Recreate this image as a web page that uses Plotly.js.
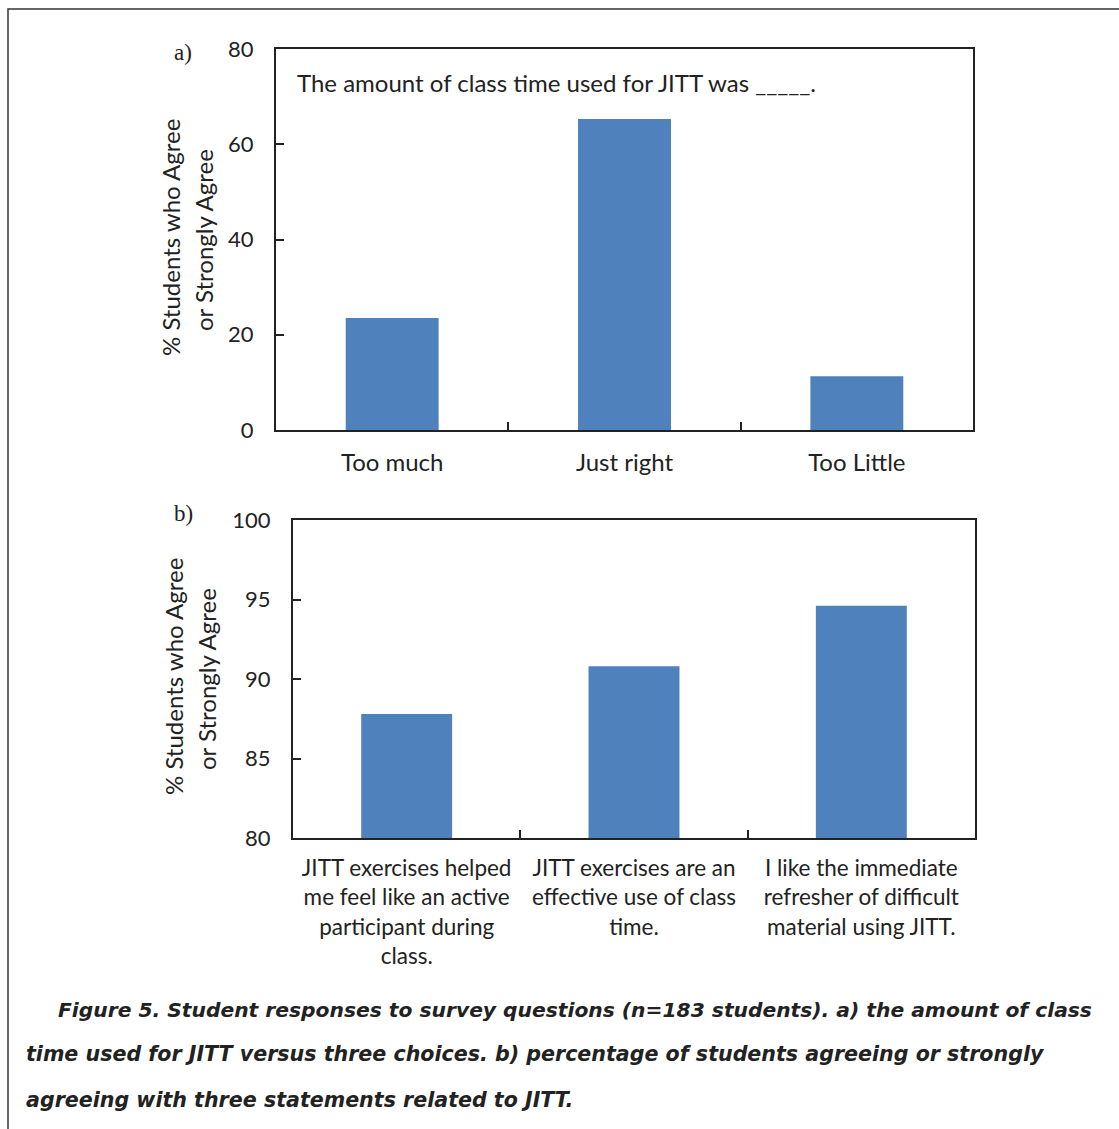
<!DOCTYPE html>
<html>
<head>
<meta charset="utf-8">
<script src="https://cdn.plot.ly/plotly-3.0.1.min.js"></script>
<style>html,body{margin:0;padding:0;background:#fff;}#chart{width:1119px;height:1129px;}</style>
</head>
<body>
<div id="chart"></div>
<script>
// Panel a data
const catsA = ["Too much", "Just right", "Too Little"];
const valsA = [23.5, 65.3, 11.3];
const ticksA = [0, 20, 40, 60, 80];

// Panel b data
const catsB = [
  "JITT exercises helped<br>me feel like an active<br>participant during<br>class.",
  "JITT exercises are an<br>effective use of class<br>time.",
  "I like the immediate<br>refresher of difficult<br>material using JITT."
];
const valsB = [87.8, 90.8, 94.6];
const ticksB = [80, 85, 90, 95, 100];

const yTitle1 = "% Students who Agree";
const yTitle2 = "or Strongly Agree";
const noteA = "The amount of class time used for JITT was _____.";
const captionLines = [
  "Figure 5. Student responses to survey questions (n=183 students). a) the amount of class",
  "time used for JITT versus three choices. b) percentage of students agreeing or strongly",
  "agreeing with three statements related to JITT."
];

const W = 1119, H = 1129;
const px = x => x / W;
const py = y => 1 - y / H;

const font = "Lato, 'Open Sans', sans-serif";
const capFont = "'DejaVu Sans', sans-serif";
const txtColor = "#222";
const barColor = "#4F81BD";

const axisCommon = {
  showline: true, mirror: true, linecolor: "#222", linewidth: 2,
  showgrid: false, zeroline: false, fixedrange: true,
  tickfont: {family: font, size: 22, color: txtColor}
};

const data = [
  {type: "bar", x: catsA, y: valsA, xaxis: "x", yaxis: "y",
   marker: {color: barColor}, hoverinfo: "none"},
  {type: "bar", x: catsB, y: valsB, xaxis: "x2", yaxis: "y2",
   marker: {color: barColor}, hoverinfo: "none"}
];

const layout = {
  width: W, height: H,
  margin: {l: 0, r: 0, t: 0, b: 0},
  paper_bgcolor: "#fff", plot_bgcolor: "#fff",
  showlegend: false,
  bargap: 0.6,
  font: {family: font, color: txtColor},
  xaxis: Object.assign({}, axisCommon, {
    domain: [px(276), px(973)], anchor: "y",
    type: "category", ticks: "inside", tickson: "boundaries",
    ticklen: 8, tickwidth: 2, tickcolor: "#222", ticklabelstandoff: 10,
    tickfont: {family: font, size: 24, color: txtColor}
  }),
  yaxis: Object.assign({}, axisCommon, {
    domain: [py(430), py(49)], anchor: "x",
    range: [0, 80], tickvals: ticksA, ticks: "inside",
    ticklen: 8, tickwidth: 2, tickcolor: "#222", ticklabelstandoff: 16
  }),
  xaxis2: Object.assign({}, axisCommon, {
    domain: [px(293), px(975)], anchor: "y2",
    type: "category", ticks: "inside", tickson: "boundaries",
    ticklen: 8, tickwidth: 2, tickcolor: "#222", ticklabelstandoff: 9,
    tickfont: {family: font, size: 22.5, color: txtColor}
  }),
  yaxis2: Object.assign({}, axisCommon, {
    domain: [py(838), py(520)], anchor: "x2",
    range: [80, 100], tickvals: ticksB, ticks: "inside",
    ticklen: 8, tickwidth: 2, tickcolor: "#222", ticklabelstandoff: 16
  }),
  shapes: [
    {type: "rect", xref: "paper", yref: "paper",
     x0: px(8), x1: 1.02, y0: -0.02, y1: py(9),
     line: {color: "#333", width: 1.5}, fillcolor: "rgba(0,0,0,0)"}
  ],
  annotations: [
    {xref: "paper", yref: "paper", x: px(295), y: py(82), xanchor: "left", yanchor: "middle",
     text: noteA, showarrow: false, font: {family: font, size: 24, color: txtColor}},
    {xref: "paper", yref: "paper", x: px(183), y: py(52), xanchor: "center", yanchor: "middle",
     text: "a)", showarrow: false, font: {family: "'Liberation Serif', serif", size: 23, color: txtColor}},
    {xref: "paper", yref: "paper", x: px(183), y: py(513), xanchor: "center", yanchor: "middle",
     text: "b)", showarrow: false, font: {family: "'Liberation Serif', serif", size: 23, color: txtColor}},
    {xref: "paper", yref: "paper", x: px(170), y: py(238), xanchor: "center", yanchor: "middle",
     text: yTitle1, textangle: -90, showarrow: false, font: {family: font, size: 24, color: txtColor}},
    {xref: "paper", yref: "paper", x: px(203), y: py(240), xanchor: "center", yanchor: "middle",
     text: yTitle2, textangle: -90, showarrow: false, font: {family: font, size: 24, color: txtColor}},
    {xref: "paper", yref: "paper", x: px(173), y: py(677), xanchor: "center", yanchor: "middle",
     text: yTitle1, textangle: -90, showarrow: false, font: {family: font, size: 24, color: txtColor}},
    {xref: "paper", yref: "paper", x: px(206), y: py(679), xanchor: "center", yanchor: "middle",
     text: yTitle2, textangle: -90, showarrow: false, font: {family: font, size: 24, color: txtColor}},
    {xref: "paper", yref: "paper", x: px(56), y: py(1010), xanchor: "left", yanchor: "middle",
     text: "<b><i>" + captionLines[0] + "</i></b>", showarrow: false,
     font: {family: capFont, size: 20.25, color: "#222"}},
    {xref: "paper", yref: "paper", x: px(24), y: py(1054), xanchor: "left", yanchor: "middle",
     text: "<b><i>" + captionLines[1] + "</i></b>", showarrow: false,
     font: {family: capFont, size: 20.6, color: "#222"}},
    {xref: "paper", yref: "paper", x: px(24), y: py(1100), xanchor: "left", yanchor: "middle",
     text: "<b><i>" + captionLines[2] + "</i></b>", showarrow: false,
     font: {family: capFont, size: 20.6, color: "#222"}}
  ]
};

Plotly.newPlot("chart", data, layout, {staticPlot: true, displayModeBar: false});
</script>
</body>
</html>
